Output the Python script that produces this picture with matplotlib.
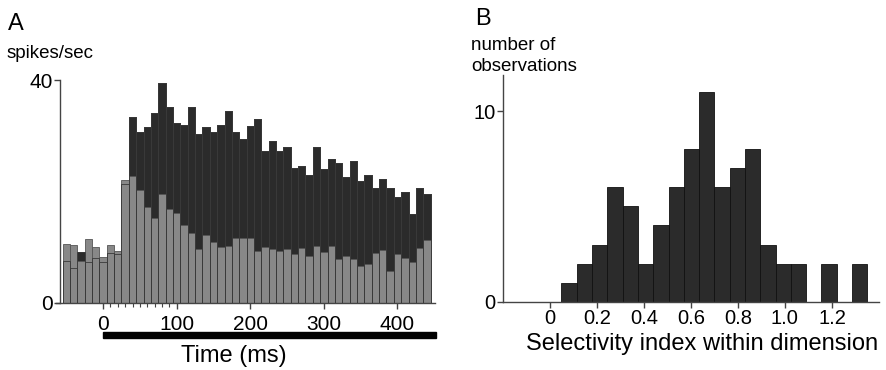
"""Two-panel figure: PSTH (A) and histogram of selectivity indices (B)."""

import numpy as np
import matplotlib

matplotlib.use("Agg")
import matplotlib.pyplot as plt
from matplotlib.patches import Rectangle

plt.rcParams["font.family"] = ["Liberation Sans", "DejaVu Sans"]

# Panel A: firing rate per 10 ms bin (bin centres in ms)
time_bins = list(range(-50, 450, 10))
rate_dark = [7.5, 6.2, 9.2, 7.4, 8.1, 7.3, 8.9, 8.8, 21.4,
             33.4, 30.6, 31.5, 34.1, 39.5, 35.1, 32.2, 31.9, 35.2, 30.4, 31.5,
             30.6, 31.9, 34.5,
             30.6, 29.4, 31.8, 33.0, 27.2, 29.1, 27.3, 27.9, 24.3, 24.6, 22.9,
             27.9, 24.1, 25.9, 25.2, 22.6, 25.5, 21.9, 23.0, 20.6, 22.3, 20.7,
             19.1, 19.9, 16.0, 20.7, 19.5]
rate_gray = [10.6, 10.4, 7.6, 11.4, 10.1, 8.3, 10.4, 9.3, 22.1,
             22.8, 20.2, 17.2, 15.2, 19.6, 16.8, 16.2, 14.0, 12.5, 9.7, 12.2,
             10.9, 10.0, 10.3,
             11.6, 11.6, 11.6, 9.4, 10.1, 9.6, 9.25, 9.7, 8.8, 9.85, 8.5,
             10.3, 9.1, 10.3, 7.9, 8.5, 7.9, 6.6, 7.0, 9.0, 9.55, 5.8,
             8.7, 8.1, 7.4, 9.85, 11.3]
bin_ms = 10
stim_on, stim_off = 0, 452

# Panel B: number of observations per selectivity-index bin
sel_start = 0.05
sel_width = 0.065
sel_counts = [1, 2, 3, 6, 5, 2, 4, 6, 8, 11, 6, 7, 8, 3, 2, 2, 0, 2, 0, 2]

W, H = 886, 370
fig = plt.figure(figsize=(W / 100, H / 100), dpi=100)

DARK = "#2b2b2b"
GRAY = "#888888"
AXC = "#444444"


def style_axes(ax, xpad, size=15):
    for s in ("top", "right"):
        ax.spines[s].set_visible(False)
    for s in ("left", "bottom"):
        ax.spines[s].set_color(AXC)
        ax.spines[s].set_linewidth(1.0)
    ax.tick_params(colors=AXC, labelcolor="black", labelsize=size,
                   length=4, width=1.0)
    ax.tick_params(axis="y", pad=1)
    ax.tick_params(axis="x", pad=xpad)


# ---- Panel A ----
axA = fig.add_axes([56 / W, 67 / H, 379 / W, 223 / H])
t = np.array(time_bins)
axA.bar(t, rate_dark, width=bin_ms, color=DARK, edgecolor="#1a1a1a",
        linewidth=0.6, zorder=1)
axA.bar(t, rate_gray, width=bin_ms, color=GRAY, edgecolor="#555555",
        linewidth=0.6, zorder=2)
axA.bar(t, rate_dark, width=bin_ms, fill=False, edgecolor="#3a3a3a",
        linewidth=0.6, zorder=3)
axA.set_xlim(-64, 451)
axA.set_ylim(0, 40)
axA.spines["left"].set_position(("data", -59))
axA.set_xticks([0, 100, 200, 300, 400])
axA.set_xticks(list(range(10, 100, 10)), minor=True)
axA.set_yticks([0, 40])
style_axes(axA, xpad=5)
axA.tick_params(which="minor", length=3, width=0.8, colors=AXC)
axA.add_patch(Rectangle((stim_on, -6.2), stim_off - stim_on, 1.0,
                        color="black", clip_on=False,
                        transform=axA.transData))
axA.set_xlabel("Time (ms)", fontsize=17, va="baseline")
axA.xaxis.set_label_coords((234 - 56) / 379, (303 - 362) / 223)

fig.text(8 / W, 1 - 30 / H, "A", fontsize=17, va="baseline")
fig.text(7 / W, 1 - 58 / H, "spikes/sec", fontsize=13.5, va="baseline")

# ---- Panel B ----
axB = fig.add_axes([502.7 / W, 68.3 / H, 376.3 / W, 226.7 / H])
left_edges = sel_start + sel_width * np.arange(len(sel_counts))
axB.bar(left_edges, sel_counts, width=sel_width, align="edge",
        color=DARK, edgecolor="#111111", linewidth=0.6)
axB.set_xlim(-0.2, 1.4)
axB.set_ylim(0, 11.9)
axB.set_xticks([0, 0.2, 0.4, 0.6, 0.8, 1.0, 1.2])
axB.set_xticklabels(["0", "0.2", "0.4", "0.6", "0.8", "1.0", "1.2"])
axB.set_yticks([0, 10])
style_axes(axB, xpad=1.5, size=14.5)
axB.set_xlabel("Selectivity index within dimension", fontsize=17,
               va="baseline")
axB.xaxis.set_label_coords((702 - 502.7) / 376.3, (301.7 - 350) / 226.7)

fig.text(475 / W, 1 - 25 / H, "B", fontsize=17, va="baseline")
fig.text(471 / W, 1 - 50 / H, "number of", fontsize=13.5, va="baseline")
fig.text(471 / W, 1 - 71 / H, "observations", fontsize=13.5, va="baseline")

fig.savefig("out.png", dpi=100)
